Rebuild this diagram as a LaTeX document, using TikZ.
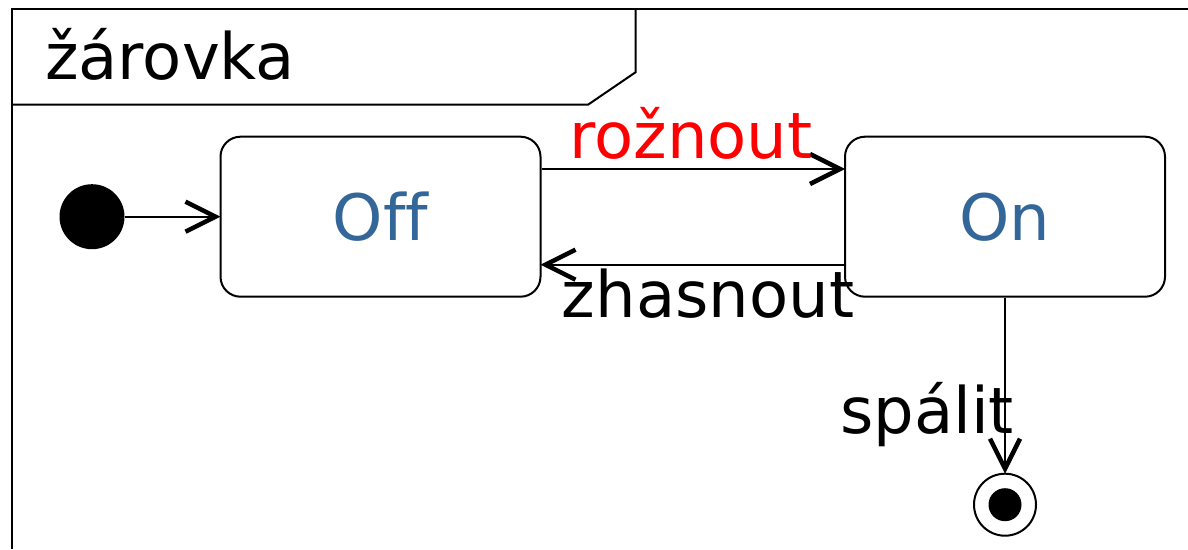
\documentclass[tikz,border=0pt]{standalone}
\usepackage{fontspec}
\setmainfont{DejaVu Sans}[Ligatures={NoCommon}]
\usetikzlibrary{calc}
\definecolor{stateblue}{RGB}{51,102,153}
\definecolor{trigred}{RGB}{255,0,0}
\begin{document}
\begin{tikzpicture}[x=1pt,y=-1pt,
  big/.style={font=\fontsize{64}{76}\selectfont},
  statebox/.style={draw,line width=2pt,rounded corners=20pt,minimum width=320pt,minimum height=160pt,inner sep=0pt,text=stateblue,big},
  framestyle/.style={line width=2pt},
  conn/.style={line width=2pt},
  chevron/.style={line width=4.5pt,line join=miter,line cap=butt},
  lbl/.style={big,anchor=base,inner sep=0pt}]
\useasboundingbox (0,0) rectangle (1188,549);
\fill[white] (0,0) rectangle (1188,549);
% frame
\draw[framestyle] (12,549) -- (12,9) -- (1190,9);
\draw[framestyle] (12,104.7) -- (588,104.7) -- (635.5,72.3) -- (635.5,9);
\node[lbl] (title) at (170,79) {žárovka};
% states
\node[circle,fill=black,minimum size=65pt,inner sep=0pt] (init) at (92,216.7) {};
\node[statebox] (off) at (380.5,216.7) {Off};
\node[statebox] (on) at (1005,216.7) {On};
\node[circle,draw,line width=2pt,minimum size=62pt,inner sep=0pt] (final) at (1005,504.7) {};
\node[circle,fill=black,minimum size=33pt,inner sep=0pt] (finaldot) at (final.center) {};
% anchor points of the transitions
\coordinate (r1) at ([yshift=47.7pt]off.east);
\coordinate (r2) at ([yshift=47.7pt]on.west);
\coordinate (z1) at ([yshift=-48pt]on.west);
\coordinate (z2) at ([yshift=-48pt]off.east);
% chevron tips, set back so that the mitred point meets the border
\coordinate (t0) at ([xshift=-4pt]off.west);
\coordinate (t1) at ([xshift=-4pt]r2);
\coordinate (t2) at ([xshift=4pt]z2);
\coordinate (t3) at ([yshift=4pt]final.north);
% transitions
\draw[conn] (init) -- (t0);
\draw[chevron] ($(t0)+(-30,-15)$) -- (t0) -- ($(t0)+(-30,15)$);
\draw[conn] (r1) -- (t1);
\draw[chevron] ($(t1)+(-30,-15)$) -- (t1) -- ($(t1)+(-30,15)$);
\draw[conn] (z1) -- (t2);
\draw[chevron] ($(t2)+(30,-15)$) -- (t2) -- ($(t2)+(30,15)$);
\draw[conn] (on.south) -- (t3);
\draw[chevron] ($(t3)+(-15,-30)$) -- (t3) -- ($(t3)+(15,-30)$);
% labels
\node[lbl,text=trigred] (l1) at (691,158.3) {rožnout};
\node[lbl] (l2) at (708,317.7) {zhasnout};
\node[lbl] (l3) at (927,433) {spálit};
\end{tikzpicture}
\end{document}
